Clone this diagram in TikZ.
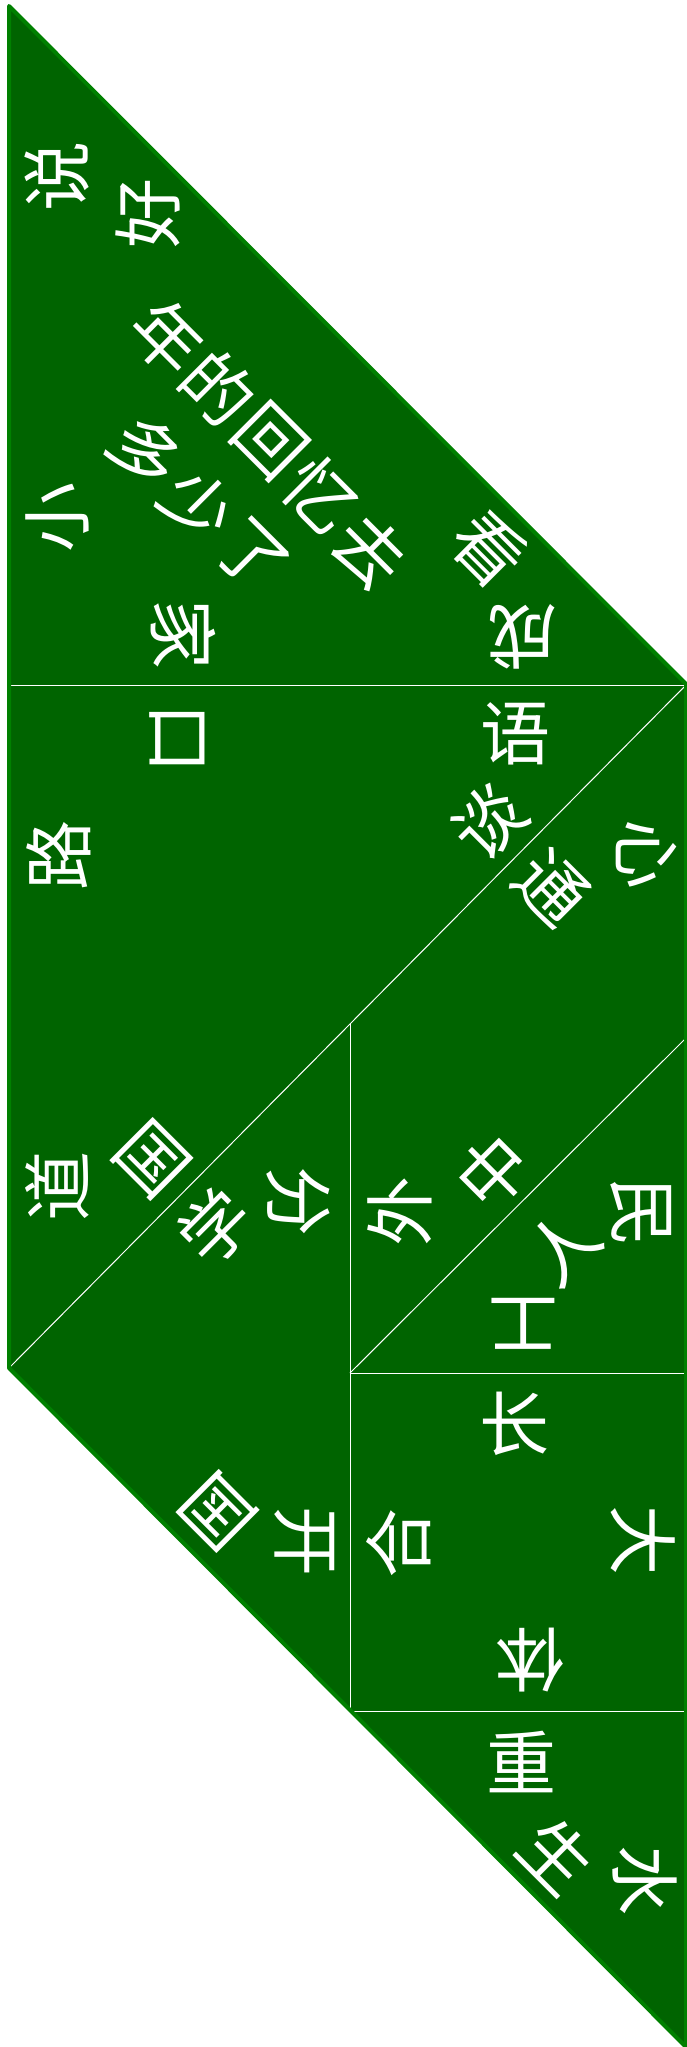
\documentclass[tikz,border=0pt]{standalone}
\usepackage{fontspec}
\newfontfamily\cjk{Noto Sans CJK SC}

\definecolor{boardgreen}{RGB}{0,100,0}
\definecolor{rimgreen}{RGB}{0,128,0}

\begin{document}
\begin{tikzpicture}[
    x=0.5pt, y=-0.5pt,
    board/.style={fill=boardgreen},
    rim/.style={draw=rimgreen, line width=2pt, line join=round},
    cut/.style={draw=white, line width=0.5pt},
    zi/.style={text=white, inner sep=0pt,
               font=\cjk\fontsize{35pt}{35pt}\selectfont}
]
\useasboundingbox (0,0) rectangle (686,2047);

% =========================
% 1) OUTLINE
% =========================
\coordinate (top) at (9,6);
\coordinate (ne)  at (686,684);
\coordinate (se)  at (686,2047);
\coordinate (sw)  at (9,1368);

\fill[board] (top) -- (ne) -- (se) -- (sw) -- cycle;

% =========================
% 2) CUTS BETWEEN PIECES
% =========================
\coordinate (w1) at (9,685);
\coordinate (e1) at (686,685);
\coordinate (m1) at (350,1024);
\coordinate (e2) at (686,1038);
\coordinate (m2) at (350,1373);
\coordinate (e3) at (686,1373);
\coordinate (m3) at (350,1711);
\coordinate (e4) at (686,1711);

\draw[cut] (w1) -- (e1);
\draw[cut] (e1) -- (sw);
\draw[cut] (m1) -- (m3);
\draw[cut] (e2) -- (m2);
\draw[cut] (m2) -- (e3);
\draw[cut] (m3) -- (e4);

\draw[rim] (top) -- (ne) -- (se) -- (sw) -- cycle;

% =========================
% 3) CHARACTERS
% =========================
% large triangle, top
\node[zi, rotate=90]  (shuo) at (57,176)  {说};
\node[zi, rotate=90]  (hao)  at (148,213) {好};
\node[zi, rotate=90]  (xiao) at (57,517)  {小};
\node[zi, rotate=-90] (jia)  at (183,634) {家};
\node[zi, rotate=-45] (nian) at (167,337) {年};
\node[zi, rotate=-45] (de)   at (219,388) {的};
\node[zi, rotate=-45] (hui)  at (270,441) {回};
\node[zi, rotate=-45] (yi)   at (321,495) {忆};
\node[zi, rotate=-45] (qu)   at (370,551) {去};
\node[zi, rotate=-45] (duo)  at (146,451) {多};
\node[zi, rotate=-45] (shao) at (198,505) {少};
\node[zi, rotate=-45] (le)   at (251,556) {了};
\node[zi, rotate=-45] (kan)  at (489,549) {看};
\node[zi, rotate=180] (cheng) at (522,637) {成};

% large triangle, middle
\node[zi, rotate=-90] (kou)  at (177,738) {口};
\node[zi, rotate=90]  (lu)   at (59,855)  {路};
\node[zi]             (yu)   at (515,734) {语};
\node[zi, rotate=45]  (tan)  at (488,822) {谈};
\node[zi, rotate=90]  (dao)  at (57,1186) {道};
\node[zi, rotate=-45] (guoa) at (152,1160) {国};

% parallelogram
\node[zi, rotate=-90] (xin)   at (647,854)  {心};
\node[zi, rotate=-45] (tong)  at (551,888)  {通};
\node[zi, rotate=45]  (zhong) at (493,1172) {中};
\node[zi, rotate=90]  (wai)   at (400,1211) {外};

% small triangle, right
\node[zi, rotate=-90] (min)  at (641,1212) {民};
\node[zi, rotate=45]  (ren)  at (562,1247) {人};
\node[zi, rotate=180] (gong) at (523,1324) {工};

% medium triangle
\node[zi, rotate=45]  (xue)  at (215,1227) {学};
\node[zi, rotate=-90] (fen)  at (298,1201) {分};
\node[zi, rotate=135] (guob) at (218,1511) {国};
\node[zi, rotate=-90] (kai)  at (305,1541) {开};

% square
\node[zi]             (chang) at (514,1424) {长};
\node[zi, rotate=-90] (da)    at (643,1540) {大};
\node[zi, rotate=90]  (he)    at (399,1543) {合};
\node[zi, rotate=180] (ti)    at (530,1660) {体};

% small triangle, bottom
\node[zi]             (zhongz) at (521,1762) {重};
\node[zi, rotate=-45] (sheng)  at (557,1856) {生};
\node[zi, rotate=-90] (shui)   at (645,1880) {水};

\end{tikzpicture}
\end{document}
